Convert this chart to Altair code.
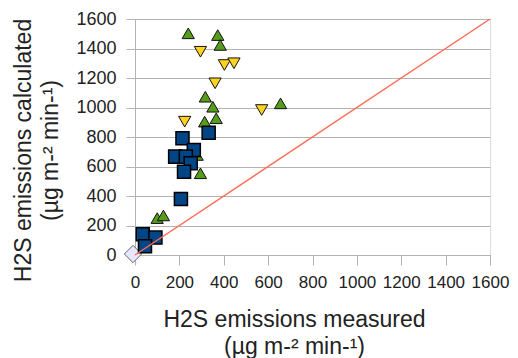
import altair as alt
import pandas as pd

green_x = [240, 373, 384, 317, 351, 656, 314, 366, 295, 280, 100, 128]
green_y = [1503, 1491, 1424, 1073, 1005, 1028, 904, 927, 554, 678, 250, 268]
yellow_x = [295, 403, 446, 361, 571, 224]
yellow_y = [1378, 1288, 1300, 1164, 983, 904]
blue_x = [214, 332, 265, 181, 229, 251, 221, 207, 35, 92, 45]
blue_y = [791, 829, 712, 667, 667, 622, 565, 380, 140, 118, 60]
diamond_x = [0]
diamond_y = [0]
line_x = [0, 1600]
line_y = [0, 1600]
ticks = [0, 200, 400, 600, 800, 1000, 1200, 1400, 1600]

xscale = alt.Scale(domain=[0, 1600], nice=False)
yscale = alt.Scale(domain=[0, 1600], nice=False)

xaxis = alt.Axis(values=ticks, grid=False, format="d", labelOverlap=False, labelFlush=False,
                 title=["H2S emissions measured", "(µg m-² min-¹)"],
                 titleX=159, titleY=64, titleAlign="center", titleBaseline="middle",
                 titleLineHeight=27, titleFontSize=23, titleFontWeight="normal",
                 titleColor="#222", labelColor="#222", labelFontSize=17,
                 tickSize=10, labelPadding=9, tickColor="#b3b3b3", domainColor="#b3b3b3",
                 labelFont="Liberation Sans", titleFont="Liberation Sans")
yaxis = alt.Axis(values=ticks, grid=True, gridColor="#b3b3b3", format="d", labelOverlap=False,
                 labelFlush=False,
                 title=["H2S emissions calculated", "(µg m-² min-¹)"],
                 titleX=-112, titleY=131, titleAngle=-90, titleAlign="center", titleBaseline="middle",
                 titleLineHeight=27, titleFontSize=23, titleFontWeight="normal",
                 titleColor="#222", labelColor="#222", labelFontSize=18,
                 tickSize=9, labelPadding=10, tickColor="#b3b3b3", domainColor="#b3b3b3",
                 labelFont="Liberation Sans", titleFont="Liberation Sans")

def pts(xs, ys):
    return pd.DataFrame({"x": xs, "y": ys})

def enc():
    return dict(x=alt.X("x:Q", scale=xscale, axis=xaxis),
                y=alt.Y("y:Q", scale=yscale, axis=yaxis))

diamond = alt.Chart(pts(diamond_x, diamond_y)).mark_point(
    shape="diamond", filled=True, size=300, fill="#e6e6ff", stroke="#666", strokeWidth=1,
    opacity=1, clip=False, xOffset=-2, yOffset=-1).encode(**enc())
green = alt.Chart(pts(green_x, green_y)).mark_point(
    shape="triangle-up", filled=True, size=150, fill="#579d1c", stroke="#111", strokeWidth=1,
    opacity=1).encode(**enc())
yellow = alt.Chart(pts(yellow_x, yellow_y)).mark_point(
    shape="triangle-down", filled=True, size=150, fill="#ffd320", stroke="#111", strokeWidth=1,
    opacity=1).encode(**enc())
blue = alt.Chart(pts(blue_x, blue_y)).mark_point(
    shape="square", filled=True, size=170, fill="#004586", stroke="#000", strokeWidth=1.5,
    opacity=1).encode(**enc())
line = alt.Chart(pts(line_x, line_y)).mark_line(color="#ff6a55", strokeWidth=1.5).encode(**enc())

chart = alt.layer(diamond, green, yellow, blue, line).properties(
    width=355, height=236,
    autosize=alt.AutoSizeParams(type="none"),
    padding={"left": 127, "top": 11, "right": 20, "bottom": 103},
).configure_view(stroke=None).configure(background="white")

chart.save("out.html", embed_options={"renderer": "svg", "actions": False})
